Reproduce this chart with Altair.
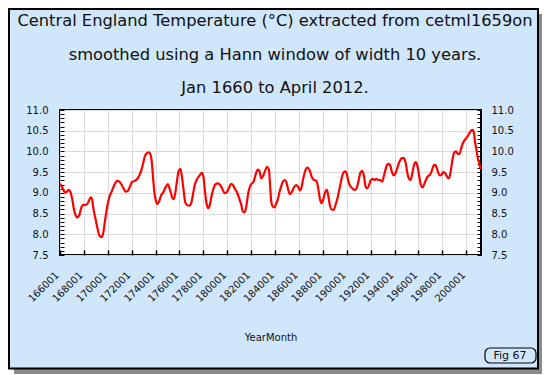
import altair as alt
import pandas as pd

# ---------------- data ----------------
years = [
    1660.0, 1661.6, 1663.6, 1665.3, 1667.3, 1668.7, 1670.1, 1671.5, 1672.9, 1674.3,
    1676.0, 1677.7, 1679.4, 1681.4, 1682.8, 1684.5, 1685.7, 1686.8, 1687.9, 1689.9,
    1691.3, 1693.0, 1694.7, 1696.1, 1697.6, 1699.3, 1701.2, 1703.2, 1705.5, 1707.8,
    1709.7, 1711.7, 1713.4, 1714.8, 1716.8, 1718.5, 1720.2, 1722.5, 1724.8, 1726.7,
    1728.2, 1729.6, 1731.0, 1732.7, 1734.4, 1735.8, 1736.9, 1737.8, 1738.9, 1740.1,
    1741.5, 1742.9, 1744.6, 1746.6, 1748.6, 1750.3,
    1751.5, 1752.6, 1753.9, 1755.3, 1756.6, 1758.0, 1759.2, 1760.8, 1762.0, 1763.4,
    1764.7, 1766.0, 1768.4, 1769.8, 1771.2, 1772.8, 1774.8, 1776.8, 1778.7, 1780.0,
    1781.2, 1782.6, 1784.0, 1785.4, 1787.0, 1788.5, 1790.2, 1792.1, 1794.0, 1795.8,
    1797.7, 1799.7, 1801.3, 1803.3, 1804.7, 1806.1, 1808.0, 1809.7, 1811.7, 1813.0,
    1814.5, 1815.9, 1817.3, 1818.7, 1820.0, 1822.0, 1823.7, 1825.6, 1827.0, 1828.4,
    1829.8, 1831.5, 1833.2, 1834.8, 1835.8, 1836.8, 1838.0, 1839.4,
    1840.8, 1842.2, 1843.7, 1845.0, 1846.5, 1847.9, 1849.3, 1850.7, 1852.4, 1854.0,
    1855.7, 1857.7, 1859.1, 1860.8, 1861.9, 1863.3, 1864.7, 1866.4, 1867.5, 1869.2,
    1870.9, 1872.6, 1874.6, 1876.0, 1877.4, 1878.8, 1880.2, 1881.6, 1883.3, 1884.4,
    1885.8, 1887.2, 1888.9, 1890.6, 1892.2, 1893.7, 1895.1, 1896.5, 1898.5, 1899.8,
    1901.2, 1902.6, 1904.6, 1906.3, 1908.0, 1909.7, 1911.3, 1913.0, 1914.4, 1915.8,
    1917.2, 1918.7, 1919.8, 1921.5, 1923.1, 1924.8, 1926.0,
    1927.9, 1929.6, 1931.0, 1932.4, 1933.8, 1935.2, 1936.6, 1938.0, 1939.4, 1940.8,
    1942.3, 1944.2, 1946.2, 1947.9, 1949.3, 1950.7, 1952.1, 1953.5, 1954.9, 1956.3,
    1957.7, 1959.2, 1960.6, 1962.0, 1963.4, 1964.8, 1966.2, 1967.9, 1969.6, 1971.0,
    1972.4, 1973.8, 1975.2, 1976.6, 1978.0, 1979.4, 1980.8, 1982.3, 1983.7, 1985.4,
    1986.5, 1987.6, 1988.7, 1990.1, 1991.5, 1992.9, 1994.4, 1995.5, 1996.6, 1998.3,
    2000.0, 2001.7, 2003.4, 2005.1, 2006.2, 2007.3, 2008.5, 2009.6, 2010.7, 2011.8,
    2012.3,
]
temps = [
    9.22, 9.15, 9.03, 9.02, 9.07, 9.02, 8.87, 8.63, 8.47, 8.41,
    8.45, 8.63, 8.71, 8.71, 8.73, 8.83, 8.89, 8.85, 8.63, 8.35,
    8.15, 7.97, 7.93, 8.02, 8.31, 8.63, 8.89, 9.03, 9.19, 9.29,
    9.27, 9.19, 9.10, 9.03, 9.05, 9.15, 9.26, 9.29, 9.34, 9.44,
    9.56, 9.72, 9.88, 9.96, 9.98, 9.92, 9.72, 9.40, 9.03, 8.83,
    8.73, 8.79, 8.94, 9.02, 9.15, 9.21,
    9.12, 9.02, 8.89, 8.85, 9.02, 9.31, 9.52, 9.58, 9.40, 9.07,
    8.79, 8.71, 8.69, 8.75, 8.95, 9.19, 9.34, 9.42, 9.48, 9.40,
    9.07, 8.75, 8.63, 8.71, 8.95, 9.11, 9.21, 9.23, 9.19, 9.10,
    8.99, 9.02, 9.11, 9.22, 9.19, 9.11, 9.02, 8.89, 8.71, 8.55,
    8.53, 8.67, 8.95, 9.13, 9.21, 9.27, 9.44, 9.56, 9.52, 9.35,
    9.40, 9.52, 9.63, 9.56, 9.19, 8.79, 8.67, 8.65,
    8.73, 8.83, 9.02, 9.15, 9.27, 9.31, 9.27, 9.11, 8.97, 9.02,
    9.13, 9.19, 9.15, 9.06, 9.11, 9.31, 9.48, 9.60, 9.61, 9.52,
    9.37, 9.31, 9.29, 9.13, 8.87, 8.75, 8.83, 8.99, 9.07, 8.95,
    8.71, 8.60, 8.59, 8.71, 8.87, 9.07, 9.27, 9.44, 9.52, 9.48,
    9.29, 9.18, 9.11, 9.07, 9.10, 9.27, 9.48, 9.53, 9.40, 9.15,
    9.11, 9.19, 9.29, 9.34, 9.31, 9.34, 9.31,
    9.31, 9.27, 9.40, 9.56, 9.68, 9.70, 9.64, 9.48, 9.42, 9.48,
    9.60, 9.76, 9.84, 9.84, 9.72, 9.48, 9.34, 9.31, 9.48, 9.68,
    9.74, 9.64, 9.40, 9.19, 9.13, 9.21, 9.31, 9.40, 9.44, 9.52,
    9.64, 9.68, 9.61, 9.48, 9.42, 9.44, 9.50, 9.48, 9.40, 9.35,
    9.44, 9.64, 9.84, 9.98, 10.00, 9.94, 9.94, 10.04, 10.16, 10.26,
    10.32, 10.39, 10.48, 10.52, 10.48, 10.24, 10.04, 9.84, 9.74, 9.60,
    9.58,
]

x_tick_years = [1660, 1680, 1700, 1720, 1740, 1760, 1780, 1800, 1820,
                1840, 1860, 1880, 1900, 1920, 1940, 1960, 1980, 2000]
y_major = [7.5, 8.0, 8.5, 9.0, 9.5, 10.0, 10.5, 11.0]
y_minor = [round(7.5 + 0.1 * i, 1) for i in range(36)]

title_lines = [
    "Central England Temperature (°C) extracted from cetml1659on",
    "smoothed using a Hann window of width 10 years.",
    "Jan 1660 to April 2012.",
]
x_title = "YearMonth"
fig_label = "Fig 67"

# ---------------- styling ----------------
W, H = 421, 145
BG = "#D0E6FB"
FONT = "DejaVu Sans"
TXT = "#111111"
GRID = "#DADADA"

df = pd.DataFrame({"year": years, "temp": temps})
base = alt.Chart(df)
xs = alt.Scale(domain=[1660, 2012.33], nice=False, zero=False)
ys = alt.Scale(domain=[7.5, 11.0], nice=False, zero=False)

line = base.mark_line(color="#FF0000", strokeWidth=2.2, interpolate="monotone").encode(
    x=alt.X("year:Q", scale=xs, axis=alt.Axis(
        orient="bottom", values=x_tick_years,
        labelExpr="toString(datum.value) + '01'",
        labelAngle=-45, labelAlign="right", labelBaseline="middle",
        labelPadding=18, labelOffset=-3, labelFontSize=10,
        labelOverlap=False, labelBound=False, labelFlush=False,
        ticks=False, tickSize=0, domain=False,
        grid=True, gridColor=GRID, gridWidth=1,
        title=x_title, titleFontSize=10, titleFontWeight="normal",
        titleY=82, titleBaseline="middle")),
    y=alt.Y("temp:Q", scale=ys, axis=alt.Axis(
        orient="left", values=y_major, format=".1f",
        ticks=False, tickSize=0, domain=False, labelOverlap=False,
        grid=True, gridColor=GRID, gridWidth=1,
        labelPadding=12, labelFontSize=10, title=None)),
)

right_axis = base.mark_line(opacity=0).encode(
    x=alt.X("year:Q", scale=xs, axis=None),
    y=alt.Y("temp:Q", scale=ys, axis=alt.Axis(
        orient="right", values=y_major, format=".1f",
        ticks=False, tickSize=0, domain=False, grid=False, labelOverlap=False,
        labelPadding=10, labelFontSize=10, title=None)),
)

left_minor = base.mark_line(opacity=0).encode(
    x=alt.X("year:Q", scale=xs, axis=None),
    y=alt.Y("temp:Q", scale=ys, axis=alt.Axis(
        orient="right", offset=-W, values=y_minor, labels=False,
        domain=False, grid=False, ticks=True, tickSize=4,
        tickColor="black", tickWidth=1, title=None)),
)

right_minor = base.mark_line(opacity=0).encode(
    x=alt.X("year:Q", scale=xs, axis=None),
    y=alt.Y("temp:Q", scale=ys, axis=alt.Axis(
        orient="left", offset=-W, values=y_minor, labels=False,
        domain=False, grid=False, ticks=True, tickSize=4,
        tickColor="black", tickWidth=1, title=None)),
)

bottom_ticks = base.mark_line(opacity=0).encode(
    x=alt.X("year:Q", scale=xs, axis=alt.Axis(
        orient="top", offset=-H, values=x_tick_years, labels=False,
        domain=False, grid=False, ticks=True, tickSize=5,
        tickColor="black", tickWidth=1.5, title=None)),
    y=alt.Y("temp:Q", scale=ys, axis=None),
)

one = alt.Data(values=[{"k": 1}])


def vrect(x, x2, y, y2, **kw):
    return alt.Chart(one).mark_rect(**kw).encode(
        x=alt.value(x), x2=alt.value(x2), y=alt.value(y), y2=alt.value(y2))


# canvas: 534 x 367 (plot origin at 52, 102 inside it)
white_b = vrect(-52, 482, 259, 265, color="white")
shadow_r = vrect(479, 482, -96, 264, color="#8c8c8c")
white_r_top = vrect(479, 482, -102, -96, color="white")
shadow_b = vrect(-46, 482, 259, 264, color="#8c8c8c")
frame = vrect(-51, 478, -101, 258.5, fillOpacity=0, stroke="black", strokeWidth=2)
fig_box = vrect(425, 476, 238, 253, fill=BG, stroke="black", strokeWidth=1.2, cornerRadius=5)
fig_text = alt.Chart(one).mark_text(
    text=fig_label, fontSize=11, font=FONT, color=TXT, align="center", baseline="middle"
).encode(x=alt.value(450), y=alt.value(245.7))

title_text = alt.Chart(one).mark_text(
    text=title_lines, fontSize=16.3, font=FONT, color=TXT, align="center",
    baseline="middle", lineHeight=33.5
).encode(x=alt.value(215), y=alt.value(-89))

chart = alt.layer(
    white_b, white_r_top, shadow_r, shadow_b, frame,
    line, right_axis, left_minor, right_minor, bottom_ticks,
    title_text, fig_box, fig_text,
).resolve_axis(
    x="independent", y="independent"
).properties(
    width=W, height=H, background=BG,
    padding={"left": 52, "top": 102, "right": 61, "bottom": 120},
    autosize=alt.AutoSizeParams(type="none"),
).configure_view(
    stroke="black", strokeWidth=2, fill="white"
).configure_axis(
    labelFont=FONT, titleFont=FONT, labelColor=TXT, titleColor=TXT
)

chart.save("out.html", embed_options={"renderer": "svg", "actions": False})
